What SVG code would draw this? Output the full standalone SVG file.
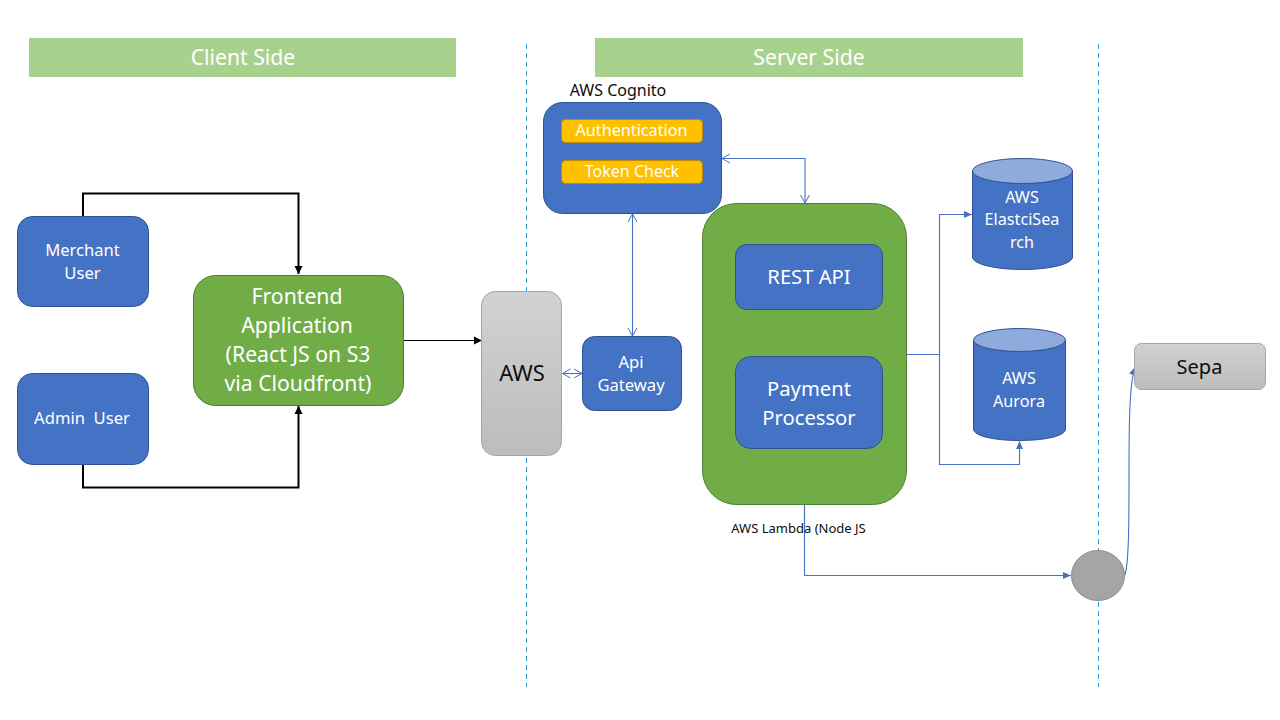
<svg xmlns="http://www.w3.org/2000/svg" width="1280" height="720" viewBox="0 0 1280 720">
<style>
text{font-family:"Noto Sans","Open Sans","Liberation Sans",sans-serif;text-anchor:middle}
.w{fill:#fff}
.k{fill:#0d0d0d}
.blue{fill:#4472c4;stroke:#2f528f;stroke-width:1}
.green{fill:#70ad47;stroke:#507e32;stroke-width:1}
.gray{fill:url(#g);stroke:#a5a5a5;stroke-width:1}
.amber{fill:#ffc000;stroke:#bc8c00;stroke-width:1}
.head{fill:#a9d18e}
.top{fill:#8faadc;stroke:#2f528f;stroke-width:1}
.sep{stroke:#2e9bd6;stroke-width:1;stroke-dasharray:5 4;fill:none}
.b{fill:none;stroke:#4472c4;stroke-width:1.1}
.bk{fill:none;stroke:#000;stroke-width:2}
</style>
<defs>
<linearGradient id="g" x1="0" y1="0" x2="0" y2="1"><stop offset="0" stop-color="#d2d2d2"/><stop offset="1" stop-color="#bcbcbc"/></linearGradient>
<marker id="tb" markerWidth="10" markerHeight="10" refX="9" refY="5" orient="auto" markerUnits="userSpaceOnUse"><path d="M1 1.5L9 5L1 8.5Z" fill="#4472c4"/></marker>
<marker id="tk" markerWidth="10" markerHeight="10" refX="9" refY="5" orient="auto" markerUnits="userSpaceOnUse"><path d="M1 1L9 5L1 9Z" fill="#000"/></marker>
<marker id="ob" markerWidth="12" markerHeight="12" refX="10" refY="6" orient="auto-start-reverse" markerUnits="userSpaceOnUse"><path d="M2 1.5L10 6L2 10.5" fill="none" stroke="#4472c4" stroke-width="1"/></marker>
</defs>

<g id="separators">
<line class="sep" x1="526.5" y1="44" x2="526.5" y2="687"/>
<line class="sep" x1="1098.5" y1="44" x2="1098.5" y2="687"/>
</g>

<g id="client-header"><rect class="head" x="29" y="38" width="427" height="39"/><text class="w" x="243" y="64.500" font-size="21.200">Client Side</text></g>
<g id="server-header"><rect class="head" x="595" y="38" width="428" height="39"/><text class="w" x="809" y="64.500" font-size="21.200">Server Side</text></g>

<g id="connectors">
<path class="bk" d="M83 216V193.500H298.500V274" marker-end="url(#tk)"/>
<path class="bk" d="M83 465V487.500H298.500V406" marker-end="url(#tk)"/>
<path d="M404 340.500H482" fill="none" stroke="#000" stroke-width="1.200" marker-end="url(#tk)"/>
<path class="b" d="M562.500 373.500H582" marker-start="url(#ob)" marker-end="url(#ob)"/>
<path class="b" d="M632.500 214V336" marker-start="url(#ob)" marker-end="url(#ob)"/>
<path class="b" d="M722 158.500H805V203" marker-start="url(#ob)" marker-end="url(#ob)"/>
<path class="b" d="M907 354.500H939.500V214.500H972" marker-end="url(#tb)"/>
<path class="b" d="M907 354.500H939.500V464.500H1019.500V441" marker-end="url(#tb)"/>
<path class="b" d="M804.500 505V575.500H1071" marker-end="url(#tb)"/>
<path class="b" d="M1125 575C1129 560 1129 520 1129 480C1129 430 1129 385 1135 367" marker-end="url(#tb)"/>
</g>

<g id="merchant-user"><rect class="blue" x="17.500" y="216.500" width="131" height="90" rx="15"/><text class="w" x="82.500" y="256" font-size="16.600">Merchant</text><text class="w" x="82.500" y="279" font-size="16.600">User</text></g>
<g id="admin-user"><rect class="blue" x="17.500" y="373.500" width="131" height="91" rx="15"/><text class="w" x="82" y="424" font-size="16.600" xml:space="preserve">Admin  User</text></g>
<g id="frontend"><rect class="green" x="193.500" y="275.500" width="210" height="130" rx="22"/>
<text class="w" x="297" y="304" font-size="21.200">Frontend</text>
<text class="w" x="297" y="333" font-size="21.200">Application</text>
<text class="w" x="298" y="362" font-size="21.200">(React JS on S3</text>
<text class="w" x="298" y="391" font-size="21.200">via Cloudfront)</text></g>
<g id="aws"><rect class="gray" x="481.500" y="291.500" width="80" height="164" rx="14"/><text class="k" x="522" y="381" font-size="22">AWS</text></g>
<g id="api-gateway"><rect class="blue" x="582.500" y="336.500" width="99" height="74" rx="12"/><text class="w" x="631" y="368" font-size="16.600">Api</text><text class="w" x="631" y="391" font-size="16.600">Gateway</text></g>
<g id="cognito"><text class="k" x="618" y="96" font-size="16">AWS Cognito</text>
<rect class="blue" x="543.500" y="102.500" width="178" height="111" rx="19"/>
<rect class="amber" x="561.500" y="119.500" width="141" height="23" rx="4"/><text class="w" x="631.500" y="136" font-size="16.200">Authentication</text>
<rect class="amber" x="561.500" y="160.500" width="141" height="23" rx="4"/><text class="w" x="632" y="177" font-size="16">Token Check</text></g>
<g id="lambda"><rect class="green" x="702.500" y="203.500" width="204" height="301" rx="34"/>
<text class="k" x="798.500" y="533" font-size="13">AWS Lambda (Node JS</text></g>
<path class="b" d="M804.500 505V530"/>
<g id="rest-api"><rect class="blue" x="735.500" y="244.500" width="147" height="65" rx="11"/><text class="w" x="809" y="284" font-size="20.200">REST API</text></g>
<g id="payment-processor"><rect class="blue" x="735.500" y="356.500" width="147" height="92" rx="15"/><text class="w" x="809" y="396" font-size="20.200">Payment</text><text class="w" x="809" y="425" font-size="20.200">Processor</text></g>
<g id="elasticsearch"><path class="blue" d="M972.500 171V257C972.500 264 995 269.500 1022.500 269.500S1072.500 264 1072.500 257V171Z"/><ellipse class="top" cx="1022.500" cy="171" rx="50" ry="12.500"/>
<text class="w" x="1022" y="203" font-size="16.200">AWS</text><text class="w" x="1022" y="225" font-size="16.200">ElastciSea</text><text class="w" x="1022" y="248" font-size="16.200">rch</text></g>
<g id="aurora"><path class="blue" d="M973.500 340V429C973.500 436 994 440.500 1019.500 440.500S1065.500 436 1065.500 429V340Z"/><ellipse class="top" cx="1019.500" cy="340" rx="46" ry="11.500"/>
<text class="w" x="1019" y="384" font-size="16.200">AWS</text><text class="w" x="1019" y="407" font-size="16.200">Aurora</text></g>
<g id="junction"><ellipse cx="1098" cy="575.500" rx="26.500" ry="25" fill="#a5a5a5" stroke="#8a8a8a" stroke-width="1"/></g>
<g id="sepa"><rect class="gray" x="1134.500" y="343.500" width="131" height="46" rx="7"/><text class="k" x="1199.500" y="373.500" font-size="20">Sepa</text></g>
</svg>
